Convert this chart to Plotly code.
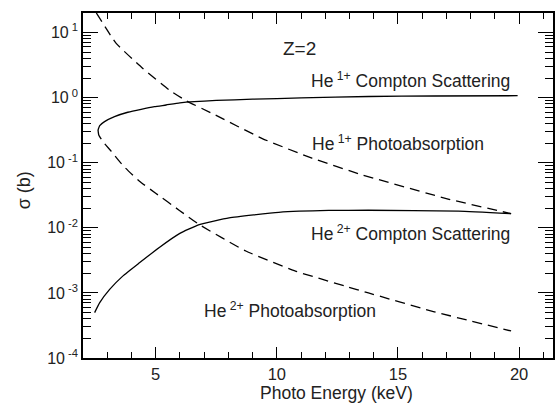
import plotly.graph_objects as go

# He1+ Compton scattering (solid, upper)
he1_compton_x = [2.62, 2.69, 2.89, 3.30, 3.85, 4.40, 4.95, 5.43, 6.0, 7.5, 9.0, 11.0, 13.8, 16.5, 19.94]
he1_compton_y = [0.319, 0.372, 0.428, 0.511, 0.596, 0.662, 0.726, 0.77, 0.83, 0.905, 0.945, 0.99, 1.04, 1.06, 1.07]

# He1+ photoabsorption (dashed, upper)
he1_photo_x = [2.55, 3.37, 4.47, 5.56, 6.25, 7.34, 9.40, 11.45, 13.51, 17.07, 19.67]
he1_photo_y = [20.0, 6.8, 2.81, 1.31, 0.90, 0.57, 0.235, 0.1175, 0.0653, 0.0277, 0.0165]

# He2+ Compton scattering (solid, lower)
he2_compton_x = [2.48, 2.69, 3.10, 3.64, 4.33, 5.15, 5.98, 6.80, 8.03, 10.08, 12.14, 13.78, 17.5, 19.67]
he2_compton_y = [4.98e-4, 7.08e-4, 1.13e-3, 1.81e-3, 2.90e-3, 5.0e-3, 8.15e-3, 0.0112, 0.0142, 0.0173, 0.0185, 0.0186, 0.018, 0.0165]

# He2+ photoabsorption (dashed, lower)
he2_photo_x = [2.62, 2.65, 2.82, 3.17, 3.51, 3.75, 4.33, 5.0, 5.98, 6.80, 8.72, 10.77, 12.83, 13.78, 16.39, 19.67]
he2_photo_y = [0.319, 0.267, 0.211, 0.149, 0.104, 0.083, 0.052, 0.034, 0.0185, 0.0112, 4.4e-3, 2.16e-3, 1.27e-3, 1.0e-3, 5.26e-4, 2.6e-4]

y_tick_vals = [1e-4, 1e-3, 1e-2, 1e-1, 1e0, 1e1]
y_tick_text = ["10<sup> -4</sup>", "10<sup> -3</sup>", "10<sup> -2</sup>", "10<sup> -1</sup>", "10<sup> 0</sup>", "10<sup> 1</sup>"]
y_minor_vals = [m * d for d in [1e-4, 1e-3, 1e-2, 1e-1, 1e0, 1e1] for m in range(2, 10)]
x_tick_vals = [5, 10, 15, 20]
x_minor_vals = [v for v in range(3, 22) if v % 5 != 0]

FONT = "Liberation Sans, Arial, sans-serif"
X_RANGE = [2, 21.4]
Y_RANGE = [-4, 1.3]

fig = go.Figure()
line_solid = dict(color="black", width=1.3, shape="spline", smoothing=0.4)
line_dash = dict(color="black", width=1.3, dash="10px,6px", shape="spline", smoothing=0.4)
fig.add_trace(go.Scatter(x=he1_compton_x, y=he1_compton_y, mode="lines", line=line_solid))
fig.add_trace(go.Scatter(x=he1_photo_x, y=he1_photo_y, mode="lines", line=line_dash))
fig.add_trace(go.Scatter(x=he2_compton_x, y=he2_compton_y, mode="lines", line=line_solid))
fig.add_trace(go.Scatter(x=he2_photo_x, y=he2_photo_y, mode="lines", line=line_dash))

ann_font = dict(family=FONT, size=17.5, color="#222")
annotations = [
    dict(x=10.94, y=0.76, text="Z=2", xanchor="center", font=dict(family=FONT, size=19, color="#222")),
    dict(x=19.70, y=0.27, text="He<sup> 1+</sup> Compton Scattering", xanchor="right", font=ann_font),
    dict(x=11.39, y=-0.70, text="He<sup> 1+</sup> Photoabsorption", xanchor="left", font=ann_font),
    dict(x=19.70, y=-2.078, text="He<sup> 2+</sup> Compton Scattering", xanchor="right", font=ann_font),
    dict(x=6.91, y=-3.263, text="He<sup> 2+</sup> Photoabsorption", xanchor="left", font=ann_font),
]
for a in annotations:
    a.update(xref="x", yref="y", showarrow=False, yanchor="middle")

annotations.append(dict(x=338, y=393, xref="paper", yref="paper", text="Photo Energy (keV)",
                        showarrow=False, font=dict(family=FONT, size=17.5, color="#222")))
annotations.append(dict(x=24, y=190, xref="paper", yref="paper", text="σ (b)", textangle=-90,
                        showarrow=False, font=dict(family=FONT, size=18, color="#222")))
W, H = 555, 408
L, R, T, B = 83, 0, 13, 50
pw, ph = W - L - R, H - T - B
for a in annotations[-2:]:
    a["x"] = (a["x"] - L) / pw
    a["y"] = 1 - (a["y"] - T) / ph
    a["xanchor"] = "center"
    a["yanchor"] = "middle"

fig.update_layout(
    width=W, height=H,
    margin=dict(l=L, r=R, t=T, b=B),
    paper_bgcolor="white", plot_bgcolor="white",
    showlegend=False,
    font=dict(family=FONT, size=16, color="#222"),
    annotations=annotations,
    xaxis=dict(
        range=X_RANGE, tickmode="array", tickvals=x_tick_vals, ticks="inside", ticklen=11, tickwidth=1.3,
        tickcolor="black", showline=True, linecolor="black", linewidth=1.5, mirror="allticks",
        showgrid=False, zeroline=False, tickfont=dict(family=FONT, size=16.5, color="#222"),
        minor=dict(ticks="inside", ticklen=6, tickwidth=1.2, tickcolor="black",
                   tickvals=x_minor_vals, showgrid=False),
    ),
    yaxis=dict(
        type="log", range=Y_RANGE, tickmode="array", tickvals=y_tick_vals, ticktext=y_tick_text,
        ticks="inside", ticklen=15, tickwidth=1.3, tickcolor="black",
        showline=True, linecolor="black", linewidth=1.5, mirror="allticks",
        showgrid=False, zeroline=False, tickfont=dict(family=FONT, size=16, color="#222"),
        minor=dict(ticks="inside", ticklen=8, tickwidth=1.2, tickcolor="black",
                   tickvals=y_minor_vals, showgrid=False),
    ),
)

fig.write_html("out.html")
